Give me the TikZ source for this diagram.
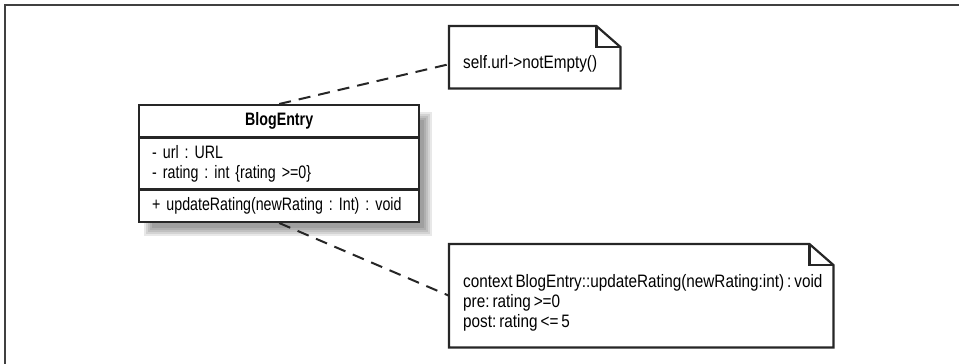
\documentclass[tikz,border=0pt]{standalone}
\usepackage{fontspec}
\setmainfont[FakeStretch=0.79, WordSpace=0.7]{Liberation Sans}
\newfontfamily\notefont[FakeStretch=0.85, WordSpace=0.7]{Liberation Sans}
\usetikzlibrary{shapes.multipart}
\frenchspacing

\tikzset{
	umltext/.style={font=\fontsize{18}{20}\selectfont},
	umlclass/.style={umltext, rectangle split, rectangle split parts=3,
		draw=black!85, line width=2.4pt, fill=white,
		text width=254pt, inner xsep=13pt, inner ysep=6.5pt},
	notebox/.style={inner sep=0pt, anchor=north west},
	notetext/.style={font=\notefont\fontsize{18}{20}\selectfont, align=left, inner sep=0pt, anchor=west},
	noteline/.style={draw=black!85, line width=2.2pt, line join=miter},
	anchorline/.style={black!85, line width=2pt, dash pattern=on 12pt off 8pt}
}

\begin{document}
\begin{tikzpicture}[x=1pt, y=-1pt]
	
	\useasboundingbox (0,0) rectangle (959,364);
	
	% frame
	\draw[black!75, line width=2pt] (5,364) -- (5,5) -- (959,5);
	
	% shadow of the class
	\foreach \d in {-4,-2,0,2,4} {
		\fill[black, opacity=0.09] (148+\d,116+\d) rectangle (428-\d,232-\d);
	}
	
	% class
	\node[umlclass, anchor=north west] (blogentry) at (138,104)
	{\centering\textbf{BlogEntry}\par
		\nodepart{two}\raggedright
		- url : URL\\
		- rating : int \{rating >=0\}\par
		\nodepart{three}\raggedright
		\mbox{+ updateRating(newRating : Int) : void}\par};
	
	% note on url
	\node[notebox, minimum width=171pt, minimum height=62pt] (urlnote) at (449,26) {};
	\node[notetext, xshift=14pt, yshift=-7pt] (urltext) at (urlnote.west)
	{self.url->notEmpty()};
	\draw[noteline] (urlnote.north west) -- ([xshift=-24pt]urlnote.north east)
	-- ([yshift=-21pt]urlnote.north east) -- (urlnote.south east)
	-- (urlnote.south west) -- cycle;
	\draw[noteline] ([xshift=-24pt]urlnote.north east) |- ([yshift=-21pt]urlnote.north east);
	
	% note on updateRating
	\node[notebox, minimum width=384pt, minimum height=103pt] (ratenote) at (449,244) {};
	\node[notetext, xshift=14pt, yshift=-7pt] (ratetext) at (ratenote.west)
	{context BlogEntry::updateRating(newRating:int) : void\\
		pre: rating >=0\\
		post: rating <= 5};
	\draw[noteline] (ratenote.north west) -- ([xshift=-24pt]ratenote.north east)
	-- ([yshift=-21pt]ratenote.north east) -- (ratenote.south east)
	-- (ratenote.south west) -- cycle;
	\draw[noteline] ([xshift=-24pt]ratenote.north east) |- ([yshift=-21pt]ratenote.north east);
	
	% anchors
	\draw[anchorline] (blogentry.north) -- (urlnote.west |- urltext);
	\draw[anchorline] (blogentry.south) -- (ratenote.west);
	
\end{tikzpicture}
\end{document}
